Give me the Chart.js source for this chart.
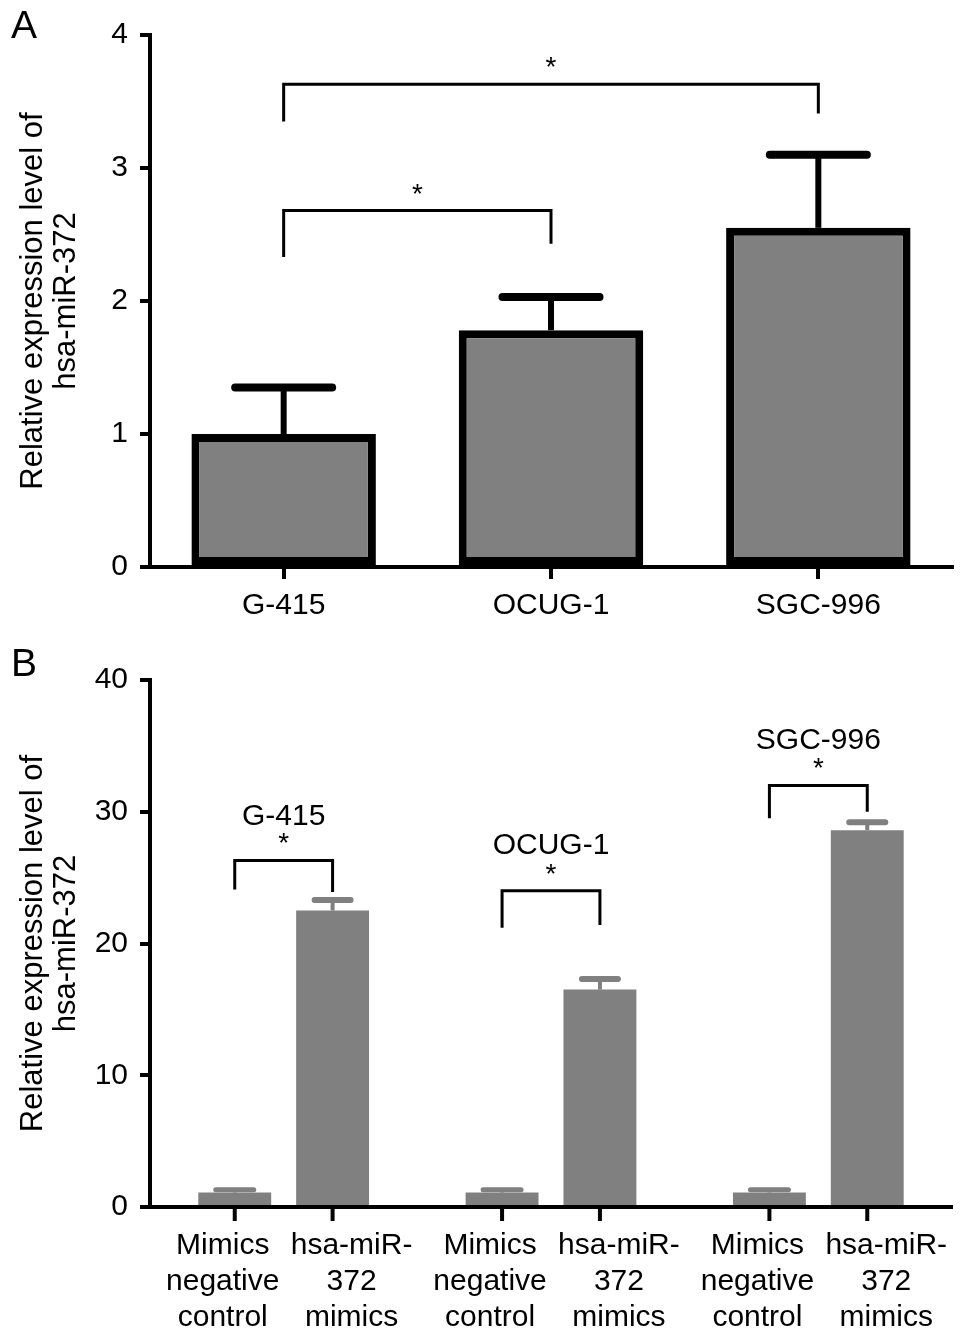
<!DOCTYPE html>
<html>
<head>
<meta charset="utf-8">
<script src="https://cdn.jsdelivr.net/npm/chart.js@4.4.1/dist/chart.umd.min.js"></script>
<style>
  body { margin: 0; background: #fff; }
  .wrap { position: relative; width: 969px; height: 1340px; }
  canvas { position: absolute; left: 0; }
  .panel { position: absolute; left: 11px; font: 39px "Liberation Sans", Arial, sans-serif; color: #000; }
</style>
</head>
<body>
<div class="wrap">
  <canvas id="chartA" width="969" height="650" style="top:0"></canvas>
  <canvas id="chartB" width="969" height="690" style="top:650px"></canvas>
  <div class="panel" style="top:3px">A</div>
  <div class="panel" style="top:641px">B</div>
</div>
<script>
// panel A: cell lines
const cellLines = ["G-415", "OCUG-1", "SGC-996"];
const meanA = [1.0, 1.78, 2.55];
const errA = [0.35, 0.25, 0.55];
// significance brackets for A: [left bar, right bar], top, leg ends
const pairsA = [[0, 1], [0, 2]];
const bracketTopA = [2.68, 3.63];
const bracketLegsA = [[2.33, 2.43], [3.35, 3.41]];

// panel B: mimics per cell line
const treatments = [["Mimics", "negative", "control"], ["hsa-miR-", "372", "mimics"]];
const meanNC = [1.1, 1.1, 1.1];
const errNC = [0.2, 0.2, 0.2];
const meanMimic = [22.5, 16.5, 28.6];
const errMimic = [0.8, 0.8, 0.6];
const bracketTopB = [26.3, 24.0, 32.0];
const bracketLegsB = [[24.1, 23.9], [21.2, 21.4], [29.5, 30.0]];
const groupLabelY = [29.6, 27.4, 35.4];

const yTitle = ["Relative expression level of", "hsa-miR-372"];
const FONT = '"Liberation Sans", Arial, sans-serif';

Chart.defaults.font.family = FONT;
Chart.defaults.color = "#000";

function yAxis(max, step) {
  return {
    min: 0, max: max,
    ticks: { stepSize: step, font: { size: 30 }, padding: 12 },
    grid: { drawOnChartArea: false, tickLength: 10, lineWidth: 4, color: "#000" },
    border: { display: true, width: 4, color: "#000" },
    title: { display: true, text: yTitle, font: { size: 31, lineHeight: 1.06 }, padding: { top: 17 } },
    afterFit: s => { s.width = 150; }
  };
}

function drawErr(ctx, chart, dsIndex, errs, color, stem, capW, capLine) {
  const ys = chart.scales.y;
  const vals = chart.data.datasets[dsIndex].data;
  chart.getDatasetMeta(dsIndex).data.forEach((bar, j) => {
    const yTop = ys.getPixelForValue(vals[j] + errs[j]);
    ctx.strokeStyle = color;
    ctx.lineCap = "butt";
    ctx.lineWidth = stem;
    ctx.beginPath(); ctx.moveTo(bar.x, bar.y); ctx.lineTo(bar.x, yTop); ctx.stroke();
    ctx.lineCap = "round";
    ctx.lineWidth = capLine;
    ctx.beginPath(); ctx.moveTo(bar.x - capW / 2, yTop); ctx.lineTo(bar.x + capW / 2, yTop); ctx.stroke();
  });
}

function drawBracket(ctx, ys, x1, x2, top, legs) {
  const yT = ys.getPixelForValue(top);
  ctx.strokeStyle = "#000";
  ctx.lineWidth = 3;
  ctx.lineCap = "butt";
  ctx.beginPath();
  ctx.moveTo(x1, ys.getPixelForValue(legs[0]));
  ctx.lineTo(x1, yT);
  ctx.lineTo(x2, yT);
  ctx.lineTo(x2, ys.getPixelForValue(legs[1]));
  ctx.stroke();
  ctx.fillStyle = "#000";
  ctx.font = "28px " + FONT;
  ctx.textAlign = "center";
  ctx.textBaseline = "alphabetic";
  ctx.fillText("*", (x1 + x2) / 2, yT - 8);
}

const extrasA = {
  id: "extrasA",
  afterDatasetsDraw(chart) {
    const ctx = chart.ctx;
    ctx.save();
    drawErr(ctx, chart, 0, errA, "#000", 6, 97, 8);
    const bars = chart.getDatasetMeta(0).data;
    pairsA.forEach((p, k) => {
      drawBracket(ctx, chart.scales.y, bars[p[0]].x, bars[p[1]].x, bracketTopA[k], bracketLegsA[k]);
    });
    ctx.restore();
  }
};

// label offsets keep the two stacked captions of a group from touching
const labelShift = [-12, 19];

const extrasB = {
  id: "extrasB",
  afterDatasetsDraw(chart) {
    const ctx = chart.ctx;
    const ys = chart.scales.y;
    ctx.save();
    drawErr(ctx, chart, 0, errNC, "#808080", 4, 38, 5);
    drawErr(ctx, chart, 1, errMimic, "#808080", 4, 36, 6);
    const nc = chart.getDatasetMeta(0).data;
    const mi = chart.getDatasetMeta(1).data;
    cellLines.forEach((name, g) => {
      drawBracket(ctx, ys, nc[g].x, mi[g].x, bracketTopB[g], bracketLegsB[g]);
      ctx.font = "30px " + FONT;
      ctx.textBaseline = "middle";
      ctx.fillText(name, (nc[g].x + mi[g].x) / 2, ys.getPixelForValue(groupLabelY[g]));
    });
    ctx.restore();
  },
  afterDraw(chart) {
    const ctx = chart.ctx;
    const xs = chart.scales.x;
    ctx.save();
    ctx.fillStyle = "#000";
    ctx.strokeStyle = "#000";
    ctx.font = "30px " + FONT;
    ctx.textAlign = "center";
    ctx.textBaseline = "middle";
    treatments.forEach((lines, i) => {
      chart.getDatasetMeta(i).data.forEach(bar => {
        ctx.lineWidth = 4;
        ctx.beginPath(); ctx.moveTo(bar.x, xs.top); ctx.lineTo(bar.x, xs.top + 14); ctx.stroke();
        lines.forEach((t, k) => ctx.fillText(t, bar.x + labelShift[i], xs.top + 39 + k * 36));
      });
    });
    ctx.restore();
  }
};

new Chart(document.getElementById("chartA"), {
  type: "bar",
  data: {
    labels: cellLines,
    datasets: [{
      data: meanA,
      backgroundColor: "#808080",
      borderColor: "#000",
      borderWidth: 8,
      borderSkipped: false,
      categoryPercentage: 1,
      barPercentage: 0.69
    }]
  },
  options: {
    responsive: false,
    animation: false,
    layout: { padding: { top: 35, right: 17, left: 0, bottom: 0 } },
    plugins: { legend: { display: false }, tooltip: { enabled: false } },
    scales: {
      x: {
        offset: true,
        ticks: { font: { size: 30 }, padding: 9 },
        grid: { drawOnChartArea: false, offset: false, tickLength: 12, lineWidth: 4, color: "#000" },
        border: { display: true, width: 4, color: "#000" },
        afterFit: s => { s.height = 83; }
      },
      y: yAxis(4, 1)
    }
  },
  plugins: [extrasA]
});

new Chart(document.getElementById("chartB"), {
  type: "bar",
  data: {
    labels: cellLines,
    datasets: [
      { data: meanNC, backgroundColor: "#808080", borderWidth: 0, categoryPercentage: 0.732, barPercentage: 0.745 },
      { data: meanMimic, backgroundColor: "#808080", borderWidth: 0, categoryPercentage: 0.732, barPercentage: 0.745 }
    ]
  },
  options: {
    responsive: false,
    animation: false,
    layout: { padding: { top: 25, right: 17, left: 0, bottom: 0 } },
    plugins: { legend: { display: false }, tooltip: { enabled: false } },
    scales: {
      x: {
        offset: true,
        z: 1,
        ticks: { display: false },
        grid: { display: false },
        border: { display: true, width: 4, color: "#000" },
        afterFit: s => { s.height = 133; }
      },
      y: yAxis(40, 10)
    }
  },
  plugins: [extrasB]
});
</script>
</body>
</html>
